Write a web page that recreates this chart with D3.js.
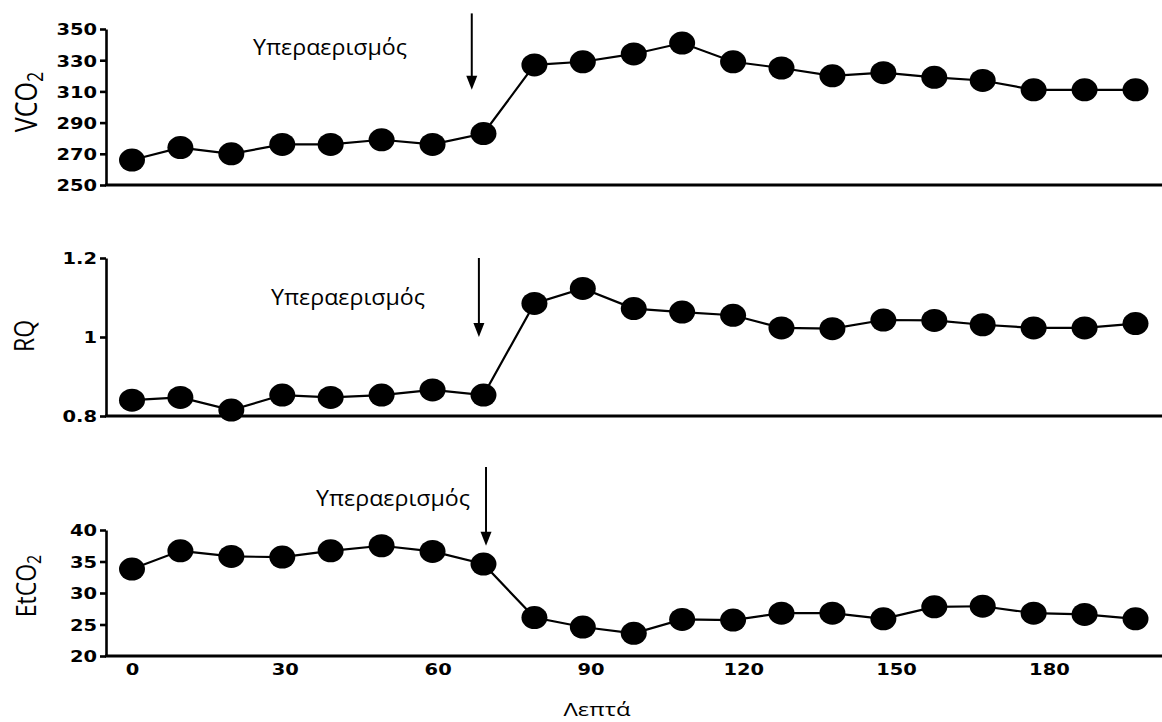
<!DOCTYPE html>
<html><head><meta charset="utf-8">
<script src="https://cdn.jsdelivr.net/npm/d3@7"></script>
<style>body{margin:0;background:#fff}</style>
</head><body>
<svg id="c" width="1162" height="722"></svg>
<script>
// ---- data ----
const minutes = [0, 9.5, 19.5, 29.5, 39, 49, 59, 69, 79, 88.5, 98.5, 108, 118, 127.5, 137.5, 147.5, 157.5, 167, 177, 187, 197];
const vco2 = [266, 274, 270, 276, 276, 279, 276, 283, 327, 329, 334, 341, 329, 325, 320, 322, 319, 317, 311, 311, 311];
const rq = [0.84, 0.847, 0.815, 0.853, 0.847, 0.853, 0.866, 0.853, 1.085, 1.123, 1.072, 1.063, 1.055, 1.023, 1.021, 1.043, 1.042, 1.031, 1.023, 1.023, 1.034];
const etco2 = [33.8, 36.7, 35.8, 35.7, 36.7, 37.5, 36.6, 34.6, 26.1, 24.6, 23.6, 25.8, 25.7, 26.8, 26.8, 25.9, 27.8, 27.9, 26.8, 26.6, 25.9];
const xTicks = [0, 30, 60, 90, 120, 150, 180];
const vco2Ticks = [250, 270, 290, 310, 330, 350];
const rqTicks = [0.8, 1, 1.2];
const etco2Ticks = [20, 25, 30, 35, 40];
const annotationText = "Υπεραερισμός";
const xTitle = "Λεπτά";
// arrow annotations: minute, start value, tip value
const vco2Arrow = [66.7, 360, 311];
const rqArrow = [68.1, 1.2, 1.0];
const etco2Arrow = [69.5, 50, 37.5];

// ---- layout ----
const svg = d3.select("#c");
const x = d3.scaleLinear().domain([-5.3, 202.2]).range([105, 1162]);
const tickFont = "'DejaVu Sans', Verdana, sans-serif";
const textFont = "'Open Sans', 'Noto Sans', sans-serif";
const stretch = 1.18;

const panels = [
  {main: "VCO", sub: "2", vals: vco2, ticks: vco2Ticks, domain: [250, 350], range: [185, 29],
   fmt: d3.format("d"), titleX: 37, titleY: 102, titleSize: 25, arrow: vco2Arrow, label: [253, 55]},
  {main: "RQ", sub: "", vals: rq, ticks: rqTicks, domain: [0.8, 1.2], range: [416, 258],
   fmt: d => String(d), titleX: 34, titleY: 336, titleSize: 23, arrow: rqArrow, label: [271, 305]},
  {main: "EtCO", sub: "2", vals: etco2, ticks: etco2Ticks, domain: [20, 40], range: [656, 530],
   fmt: d3.format("d"), titleX: 36, titleY: 586, titleSize: 23, arrow: etco2Arrow, label: [316, 506]}
];

panels.forEach((p, pi) => {
  const y = d3.scaleLinear().domain(p.domain).range(p.range);
  const g = svg.append("g");

  // y axis
  const ya = g.append("g").attr("transform", "translate(106,0)")
    .call(d3.axisLeft(y).tickValues(p.ticks).tickSize(6).tickSizeOuter(0).tickFormat(p.fmt));
  ya.select(".domain").attr("stroke", "#000").attr("stroke-width", 2.6);
  ya.selectAll(".tick line").attr("stroke", "#000").attr("stroke-width", 2.6);
  ya.selectAll(".tick text")
    .attr("x", -9 / stretch).attr("transform", `scale(${stretch},1)`)
    .attr("dy", "0.36em")
    .style("font-family", tickFont).style("font-size", "16.5px").style("font-weight", "bold").attr("fill", "#000");

  // x axis baseline
  g.append("line").attr("x1", x.range()[0]).attr("x2", x.range()[1])
    .attr("y1", p.range[0]).attr("y2", p.range[0])
    .attr("stroke", "#000").attr("stroke-width", 3);

  // y title
  const t = g.append("text")
    .attr("transform", `translate(${p.titleX},${p.titleY}) scale(1.22,1) rotate(-90)`)
    .attr("text-anchor", "middle").style("font-family", textFont).style("font-size", p.titleSize + "px").attr("fill", "#000");
  t.append("tspan").text(p.main);
  if (p.sub) t.append("tspan").attr("dy", "0.28em").style("font-size", Math.round(p.titleSize * 0.7) + "px").text(p.sub);

  // line
  const line = d3.line().x((d, i) => x(minutes[i])).y(d => y(d));
  g.append("path").datum(p.vals).attr("d", line).attr("fill", "none")
    .attr("stroke", "#000").attr("stroke-width", 2.2);

  // dots
  g.selectAll("ellipse").data(p.vals).join("ellipse")
    .attr("cx", (d, i) => x(minutes[i])).attr("cy", d => y(d))
    .attr("rx", 13).attr("ry", 11.5).attr("fill", "#000");

  // arrow
  const ax = x(p.arrow[0]), ay0 = y(p.arrow[1]), ay1 = y(p.arrow[2]);
  g.append("line").attr("x1", ax).attr("x2", ax).attr("y1", ay0).attr("y2", ay1 - 10)
    .attr("stroke", "#000").attr("stroke-width", 2);
  g.append("path").attr("d", `M${ax - 5.5},${ay1 - 14}L${ax + 5.5},${ay1 - 14}L${ax},${ay1}Z`).attr("fill", "#000");

  // annotation text
  g.append("text").attr("x", p.label[0]).attr("y", p.label[1])
    .attr("textLength", 154).attr("lengthAdjust", "spacingAndGlyphs")
    .style("font-family", textFont).style("font-size", "21px").attr("fill", "#000")
    .text(annotationText);

  // bottom x axis labels
  if (pi === 2) {
    const xa = g.append("g").attr("transform", `translate(0,${p.range[0]})`)
      .call(d3.axisBottom(x).tickValues(xTicks).tickSize(0).tickPadding(7.5));
    xa.select(".domain").remove();
    xa.selectAll(".tick text").attr("transform", `scale(${stretch},1)`)
      .style("font-family", tickFont).style("font-size", "16.5px").style("font-weight", "bold").attr("fill", "#000");
    g.append("text").attr("x", 597).attr("y", 716).attr("text-anchor", "middle")
      .attr("textLength", 67).attr("lengthAdjust", "spacingAndGlyphs")
      .style("font-family", textFont).style("font-size", "19px").attr("fill", "#000")
      .text(xTitle);
  }
});
</script>
</body></html>
